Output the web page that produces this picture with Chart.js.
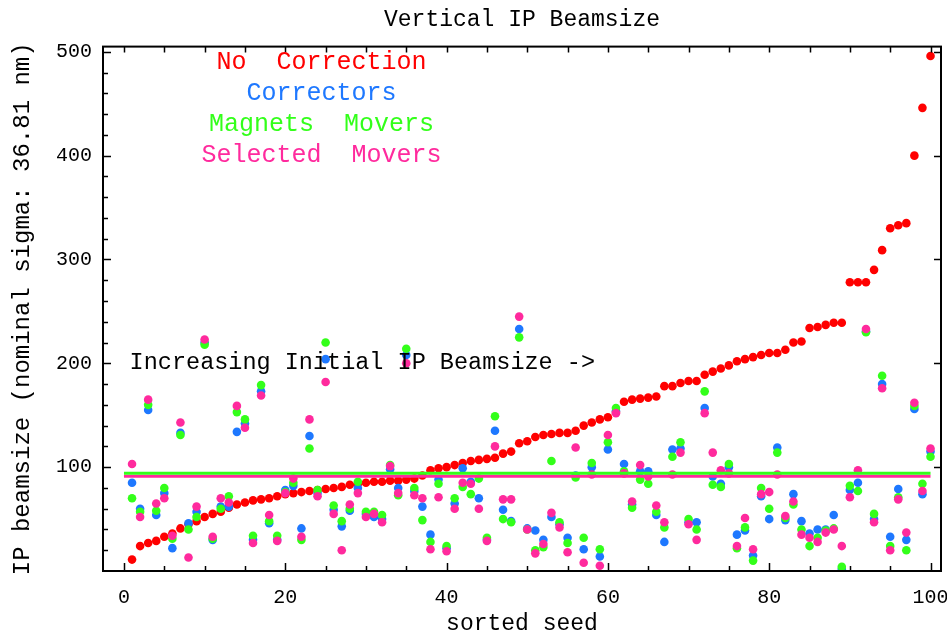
<!DOCTYPE html>
<html>
<head>
<meta charset="utf-8">
<title>Vertical IP Beamsize</title>
<script src="https://cdn.jsdelivr.net/npm/chart.js@4.4.1/dist/chart.umd.min.js"></script>
<style>
  html, body { margin: 0; padding: 0; background: #fff; }
  #beam-chart { display: block; }
</style>
</head>
<body>
<canvas id="beam-chart" width="947" height="633"></canvas>
<script>
// values, seed 1..100 (sorted by uncorrected beamsize)
const no_correction = [
  11, 24, 27, 29, 33, 36, 41, 45, 48, 52,
  55, 57, 61, 64, 66, 68, 69, 70, 72, 74,
  75, 76, 77, 78, 79, 80, 81, 83, 84, 85,
  86, 86, 87, 87, 88, 89, 92, 97, 99, 100,
  102, 104, 106, 107, 108, 109, 113, 115, 123, 125,
  129, 131, 132, 133, 133, 135, 140, 143, 146, 148,
  153, 163, 165, 166, 167, 168, 178, 178, 181, 183,
  183, 189, 192, 195, 198, 202, 204, 206, 208, 210,
  210, 213, 220, 221, 234, 235, 237, 239, 239, 278,
  278, 278, 290, 309, 330, 333, 335, 400, 446, 496
];
const correctors = [
  85, 60, 155, 54, 75, 22, 133, 46, 57, 220,
  30, 62, 62, 134, 142, 30, 173, 46, 30, 78,
  82, 41, 130, 75, 204, 59, 43, 58, 80, 55,
  52, 50, 98, 80, 208, 77, 62, 35, 88, 22,
  65, 99, 86, 70, 30, 135, 59, 48, 233, 41,
  39, 30, 52, 45, 32, 92, 21, 100, 14, 117,
  154, 103, 64, 96, 96, 54, 28, 117, 118, 47,
  47, 157, 91, 84, 100, 35, 39, 15, 72, 50,
  119, 49, 74, 48, 36, 40, 40, 54, 2, 78,
  85, 231, 50, 180, 33, 79, 30, 156, 74, 115
];
const magnet_movers = [
  70, 57, 160, 58, 80, 31, 131, 40, 52, 218,
  31, 60, 72, 153, 146, 34, 179, 48, 34, 76,
  85, 30, 118, 78, 220, 63, 48, 60, 86, 57,
  57, 54, 102, 73, 214, 80, 49, 28, 84, 24,
  70, 81, 74, 89, 32, 149, 50, 47, 225, 40,
  20, 23, 106, 47, 27, 90, 32, 104, 21, 124,
  157, 96, 61, 88, 84, 57, 42, 110, 124, 50,
  40, 173, 83, 81, 103, 22, 42, 10, 80, 60,
  114, 51, 64, 40, 24, 32, 39, 41, 4, 82,
  77, 230, 55, 188, 24, 71, 20, 159, 84, 110
];
const selected_movers = [
  103, 52, 165, 65, 70, 34, 143, 13, 62, 223,
  33, 70, 66, 159, 138, 27, 169, 54, 29, 75,
  89, 33, 146, 72, 182, 55, 20, 64, 75, 52,
  55, 47, 101, 75, 200, 73, 70, 21, 71, 19,
  60, 85, 84, 60, 29, 120, 69, 69, 245, 40,
  17, 26, 56, 42, 18, 119, 8, 93, 5, 131,
  152, 94, 67, 102, 91, 63, 47, 93, 114, 45,
  30, 152, 114, 97, 94, 24, 51, 21, 74, 76,
  93, 53, 67, 35, 32, 28, 37, 40, 24, 71,
  97, 233, 47, 176, 20, 69, 37, 162, 77, 118
];

// the two horizontal reference lines
const magnet_level = 94.2;
const selected_level = 91.3;
const level_span = [0, 100];

const x_ticks = [0, 20, 40, 60, 80, 100];
const y_ticks = [100, 200, 300, 400, 500];

const series_names = ["No  Correction", "Correctors", "Magnets  Movers", "Selected  Movers"];
const series_colors = ["#ff0000", "#1e78ff", "#33ff1a", "#ff2a9d"];

const mono = "'Liberation Mono', 'DejaVu Sans Mono', monospace";

function to_points(values) {
    return values.map((v, i) => ({ x: i + 1, y: v }));
}

function level_line(level) {
    return level_span.map(x => ({ x: x, y: level }));
}

// frame, inward tick marks and the text written inside the plot
const plot_decor = {
    id: "plot_decor",
    afterDraw(chart) {
        const c = chart.ctx;
        const a = chart.chartArea;
        const xs = chart.scales.x;
        const ys = chart.scales.y;

        c.save();
        c.strokeStyle = "#000";
        c.lineWidth = 2;
        c.strokeRect(a.left, a.top, a.right - a.left, a.bottom - a.top);

        c.lineWidth = 1.5;
        c.beginPath();
        for (let v = 0; v <= 100; v += 5) {
            const px = Math.round(xs.getPixelForValue(v)) + 0.5;
            const len = v % 20 === 0 ? 8 : 5;
            c.moveTo(px, a.bottom); c.lineTo(px, a.bottom - len);
            c.moveTo(px, a.top); c.lineTo(px, a.top + 6);
        }
        for (let v = 20; v <= 500; v += 20) {
            const py = Math.round(ys.getPixelForValue(v)) + 0.5;
            const len = v % 100 === 0 ? 8 : 5;
            c.moveTo(a.left, py); c.lineTo(a.left + len, py);
            if (v % 100 === 0) { c.moveTo(a.right, py); c.lineTo(a.right - 7, py); }
        }
        c.stroke();

        // legend written as coloured text
        c.font = "25px " + mono;
        c.textAlign = "center";
        c.textBaseline = "middle";
        const legend_y = [490, 459.5, 429.8, 400];
        series_names.forEach((name, i) => {
            c.fillStyle = series_colors[i];
            c.fillText(name, xs.getPixelForValue(24.5), ys.getPixelForValue(legend_y[i]));
        });

        c.font = "23.5px " + mono;
        c.textAlign = "left";
        c.fillStyle = "#000";
        c.fillText("Increasing Initial IP Beamsize ->", xs.getPixelForValue(0.7), ys.getPixelForValue(200.5));
        c.restore();
    }
};

const ctx = document.getElementById("beam-chart").getContext("2d");

const scatter_set = (i, values, order) => ({
    label: series_names[i],
    data: to_points(values),
    backgroundColor: series_colors[i],
    borderWidth: 0,
    pointRadius: 4.3,
    showLine: false,
    order: order
});

const beam_chart = new Chart(ctx, {
    type: "scatter",
    data: {
        datasets: [
            {
                label: "magnets level",
                data: level_line(magnet_level),
                showLine: true,
                borderColor: series_colors[2],
                borderWidth: 3,
                pointRadius: 0,
                order: 0
            },
            {
                label: "selected level",
                data: level_line(selected_level),
                showLine: true,
                borderColor: series_colors[3],
                borderWidth: 3,
                pointRadius: 0,
                order: 0
            },
            scatter_set(0, no_correction, 4),
            scatter_set(1, correctors, 3),
            scatter_set(2, magnet_movers, 2),
            scatter_set(3, selected_movers, 1)
        ]
    },
    options: {
        responsive: false,
        animation: false,
        devicePixelRatio: 1,
        layout: { padding: { left: 0, right: 6, top: 0, bottom: 0 } },
        plugins: {
            legend: { display: false },
            tooltip: { enabled: false },
            title: {
                display: true,
                text: "Vertical IP Beamsize",
                fullSize: false,
                color: "#000",
                font: { family: mono, size: 23, weight: "normal", lineHeight: 1.2 },
                padding: { top: 6, bottom: 13 }
            }
        },
        scales: {
            x: {
                type: "linear",
                min: -2.6,
                max: 101.3,
                afterBuildTicks: s => { s.ticks = x_ticks.map(v => ({ value: v })); },
                afterFit: s => { s.height = 62; s.paddingLeft = 0; s.paddingRight = 0; },
                grid: { display: false, drawTicks: false },
                border: { display: false },
                ticks: { color: "#000", padding: 15, maxRotation: 0, font: { family: mono, size: 20 } },
                title: {
                    display: true,
                    text: "sorted seed",
                    color: "#000",
                    font: { family: mono, size: 23, lineHeight: 0.8 },
                    padding: { top: 0, bottom: 0 }
                }
            },
            y: {
                type: "linear",
                min: 0,
                max: 505,
                afterBuildTicks: s => { s.ticks = y_ticks.map(v => ({ value: v })); },
                afterFit: s => { s.width = 103; s.paddingTop = 0; s.paddingBottom = 0; },
                grid: { display: false, drawTicks: false },
                border: { display: false },
                ticks: { color: "#000", padding: 11, font: { family: mono, size: 20 } },
                title: {
                    display: true,
                    text: "IP beamsize (nominal sigma: 36.81 nm)",
                    color: "#000",
                    font: { family: mono, size: 24, lineHeight: 1.2 },
                    padding: { top: 8, bottom: 0 }
                }
            }
        }
    },
    plugins: [plot_decor]
});
</script>
</body>
</html>
